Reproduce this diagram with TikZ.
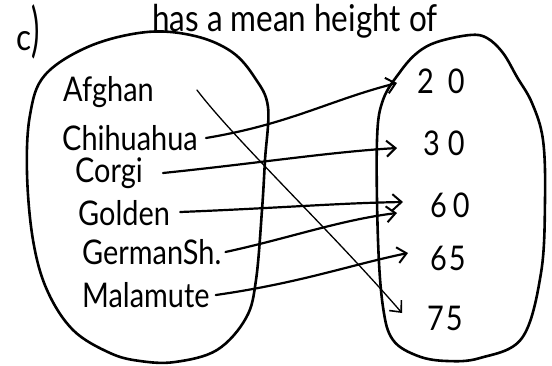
\documentclass[tikz,border=0pt]{standalone}
\usepackage{fontspec}
\usepackage{graphicx}
\setmainfont{Lato}
\newfontfamily\hand[FakeStretch=0.85]{Lato}
\usetikzlibrary{arrows.meta}
\tikzset{
  blob/.style={line width=2.6pt, line join=round},
  lab/.style={font=\hand\fontsize{34}{34}\selectfont, inner sep=0pt, anchor=base west},
  num/.style={font=\hand\fontsize{34}{34}\selectfont, inner sep=0pt, anchor=base west},
  head/.style={font=\hand\fontsize{37}{37}\selectfont, inner sep=0pt, anchor=base west},
  link/.style={line width=2.2pt, line cap=round, -{Straight Barb[length=9pt,width=16pt,line width=2pt]}},
  thin/.style={line width=1.3pt, line cap=round, -{Straight Barb[length=9pt,width=16pt,line width=1.6pt]}}
}
\begin{document}
\begin{tikzpicture}[x=1pt,y=-1pt]
\useasboundingbox (0,0) rectangle (552,365);
% header
\node[head] (hd) at (152,31) {has a mean height of};
\node[head, anchor=base west] (c) at (16,50) {c\scalebox{1}[1.6]{)}};
% left set
\draw[blob] plot[smooth cycle, tension=0.6] coordinates {
  (147,32) (195,36) (232,52) (255,78) (268,107) (265,160) (262,210)
  (256,280) (246,318) (217,350) (175,362) (140,361) (110,353) (73,330)
  (47,290) (33,240) (27,173) (30,115) (45,75) (90,46)};
% right set
\draw[blob] plot[smooth cycle, tension=0.6] coordinates {
  (470,35) (487,38) (503,53) (517,77) (532,103) (543,140) (545,200)
  (541,273) (522,338) (480,358) (447,361) (418,356) (393,340) (383,307)
  (378,240) (377,140) (383,100) (400,72) (417,53) (437,42)};
% labels
\node[lab] (afg) at (63,101) {Afghan};
\node[lab] (chi) at (62,150) {Chihuahua};
\node[lab] (cor) at (75,182) {Corgi};
\node[lab] (gol) at (78,225) {Golden};
\node[lab] (ger) at (82,264) {GermanSh.};
\node[lab] (mal) at (82,307) {Malamute};
\node[num] (n20) at (417,93) {2\kern14pt0};
\node[num] (n30) at (423,155) {3\kern8pt0};
\node[num] (n60) at (430,217) {6\kern6pt0};
\node[num] (n65) at (430,270) {6\kern2pt5};
\node[num] (n75) at (427,330) {7\kern2pt5};
% connectors
\coordinate (t20) at (397,83);
\coordinate (t30) at (397,148);
\coordinate (t60a) at (403,202);
\coordinate (t60b) at (397,213);
\coordinate (t65) at (408,253);
\coordinate (t75) at (402,313);
\draw[link] (chi.base east) ++(8,-12) coordinate (s1) .. controls (290,124) and (330,100) .. (t20);
\draw[link] (cor.base east) ++(20,-9) coordinate (s2) .. controls (260,163) and (330,152) .. (t30);
\draw[link] (gol.base east) ++(10,-13) coordinate (s3) .. controls (280,208) and (340,203) .. (t60a);
\draw[link] (ger.base east) ++(4,-12) coordinate (s4) .. controls (290,238) and (340,220) .. (t60b);
\draw[link] (mal.base east) ++(6,-12) coordinate (s5) .. controls (300,283) and (350,265) .. (t65);
\draw[thin] (afg.base east) ++(43,-11) coordinate (s6) .. controls (235,140) and (330,230) .. (t75);
\end{tikzpicture}
\end{document}
